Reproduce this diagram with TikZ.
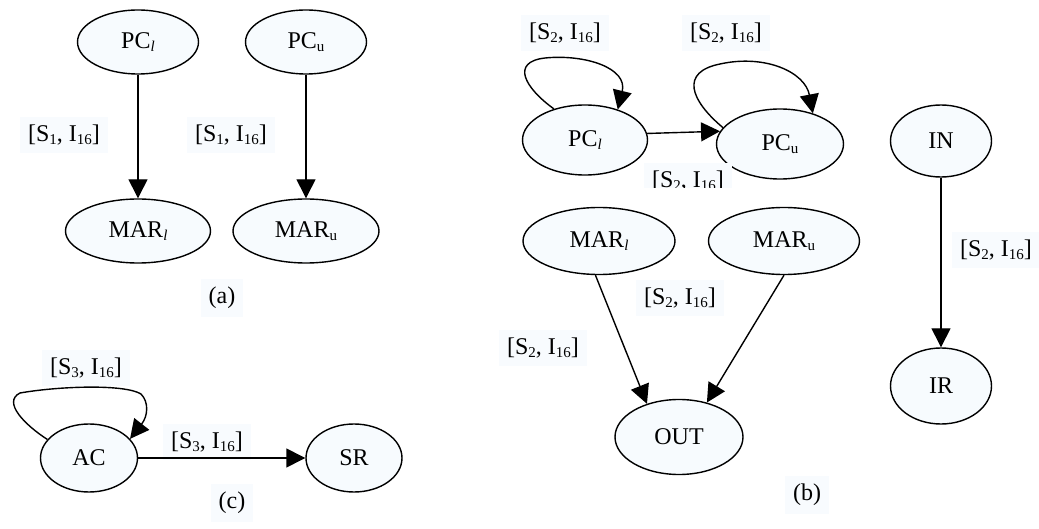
\documentclass[tikz,border=0pt]{standalone}
\usepackage{fontspec}
\setmainfont{Liberation Serif}
\usetikzlibrary{shapes.geometric,arrows.meta}
\definecolor{nodefill}{HTML}{F7FBFE}
\definecolor{labfill}{HTML}{F8FBFE}
\newcommand\subx[1]{\raisebox{-0.3ex}{\fontsize{15}{15}\selectfont #1}}
\begin{document}
\begin{tikzpicture}[x=1pt,y=-1pt,
  font=\fontsize{24}{28}\selectfont,
  gnode/.style={ellipse, draw, line width=1.4pt, fill=nodefill, inner sep=0pt},
  elabel/.style={fill=labfill, inner xsep=8pt, inner ysep=8pt},
  arr/.style={line width=1.4pt, -{Triangle[length=19pt,width=19pt]}}]
\useasboundingbox (0,0) rectangle (1039,529);
% ---------- (a)
\node[gnode, minimum width=121pt, minimum height=64pt] (pcla) at (138,42) {PC\subx{\textit{l}}};
\node[gnode, minimum width=121pt, minimum height=64pt] (pcua) at (306,42) {PC\subx{u}};
\node[gnode, minimum width=145pt, minimum height=64pt] (marla) at (138,231) {MAR\subx{\textit{l}}};
\node[gnode, minimum width=146pt, minimum height=64pt] (marua) at (306,231) {MAR\subx{u}};
\node[elabel] (la1) at (64,135) {[S\subx{1}, I\subx{16}]};
\node[elabel] (la2) at (231,135) {[S\subx{1}, I\subx{16}]};
\node[elabel] (capa) at (222,298) {(a)};
\draw[arr] (pcla) -- (marla);
\draw[arr] (pcua) -- (marua);
% ---------- (c)
\node[gnode, minimum width=97pt, minimum height=68pt] (ac) at (89,458) {AC};
\node[gnode, minimum width=96pt, minimum height=68pt] (sr) at (354,458) {SR};
\node[elabel] (lc1) at (86,368) {[S\subx{3}, I\subx{16}]};
\node[elabel] (lc2) at (207,442) {[S\subx{3}, I\subx{16}]};
\node[elabel] (capc) at (232,503) {(c)};
\draw[arr] (ac) -- (sr);
\draw[arr] (ac.156) .. controls (25,425) and (2,402) .. (20,393)
  .. controls (60,386) and (125,384) .. (141,394)
  .. controls (149,402) and (148,416) .. (ac.25);
% ---------- (b)
\node[gnode, minimum width=125pt, minimum height=70pt] (pclb) at (585,140) {PC\subx{\textit{l}}};
\node[gnode, minimum width=127pt, minimum height=70pt] (pcub) at (780,144) {PC\subx{u}};
\node[gnode, minimum width=101pt, minimum height=72pt] (in) at (941,141) {IN};
\node[gnode, minimum width=101pt, minimum height=76pt] (ir) at (941,386) {IR};
\node[gnode, minimum width=152pt, minimum height=67pt] (marlb) at (599,241) {MAR\subx{\textit{l}}};
\node[gnode, minimum width=151pt, minimum height=67pt] (marub) at (784,241) {MAR\subx{u}};
\node[gnode, minimum width=128pt, minimum height=75pt] (out) at (679,437) {OUT};
\node[elabel] (lb1) at (565,33) {[S\subx{2}, I\subx{16}]};
\node[elabel] (lb2) at (726,33) {[S\subx{2}, I\subx{16}]};
\begin{scope}
\clip (600,100) rectangle (760,188);
\node[elabel] (lb3) at (688,181) {[S\subx{2}, I\subx{16}]};
\end{scope}
\node[elabel] (lb4) at (680,298) {[S\subx{2}, I\subx{16}]};
\node[elabel] (lb5) at (543,348) {[S\subx{2}, I\subx{16}]};
\node[elabel] (lb6) at (996,250) {[S\subx{2}, I\subx{16}]};
\node[elabel] (capb) at (807,495) {(b)};
\draw[arr] (pclb.6) -- (pcub.168);
\draw[arr] (pclb.135) .. controls (525,88) and (510,62) .. (545,58)
  .. controls (585,54) and (628,68) .. (pclb.43);
\draw[arr] (pcub.164) .. controls (690,100) and (680,72) .. (720,64)
  .. controls (765,54) and (805,72) .. (pcub.43);
\draw[arr] (marlb.264) -- (out.134);
\draw[arr] (marub.270) -- (out.51);
\draw[arr] (in) -- (ir);
\end{tikzpicture}
\end{document}
